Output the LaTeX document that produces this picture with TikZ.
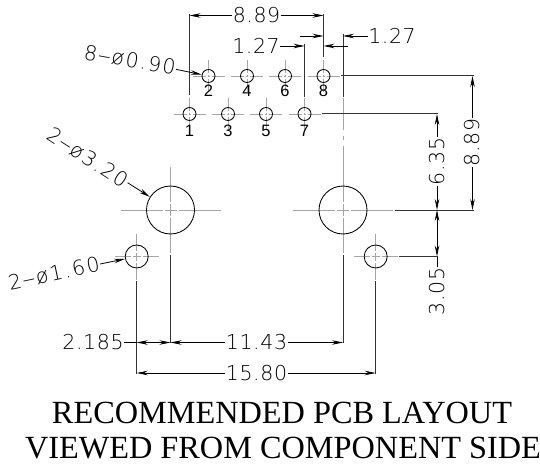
\documentclass[tikz,border=0pt]{standalone}
\usepackage{graphicx}
\usepackage{fontspec}
\setmainfont{Liberation Serif}
\newfontfamily\cadfont[LetterSpace=3]{DejaVu Sans ExtraLight}
\newfontfamily\leaderfont[LetterSpace=8]{DejaVu Sans ExtraLight}
\newfontfamily\pinfont{Liberation Sans}
\usetikzlibrary{arrows.meta}
\newcommand{\longhy}{\scalebox{2}[1]{-}}
\tikzset{
  x=1pt,y=-1pt,
  obj/.style={draw=black,line width=0.85pt},
  ext/.style={draw=black!80,line width=1pt},
  ctr/.style={draw=black!35,line width=0.9pt},
  dimline/.style={draw=black,line width=0.8pt,-{Stealth[length=11pt,width=4.5pt]}},
  dimtwo/.style={draw=black,line width=0.8pt,{Stealth[length=11pt,width=4.5pt]}-{Stealth[length=11pt,width=4.5pt]}},
  plainline/.style={draw=black,line width=0.8pt},
  dimtext/.style={font=\cadfont\fontsize{20.5}{20.5}\selectfont,inner sep=0.5pt,text=black},
  leadertext/.style={font=\leaderfont\fontsize{20.5}{20.5}\selectfont,inner sep=0.5pt,text=black},
  pintext/.style={font=\pinfont\fontsize{16.5}{16.5}\selectfont,inner sep=0pt},
  title/.style={font=\fontsize{32.3}{32.3}\selectfont,inner sep=0pt,anchor=base},
}
\newcommand{\crossmark}[5]{% x,y,hx,vy,offset
  \draw[ctr] (#1-#3,#2) -- (#1-#5,#2) (#1-#5+2,#2) -- (#1+#5-2,#2) (#1+#5,#2) -- (#1+#3,#2);
  \draw[ctr] (#1,#2-#4) -- (#1,#2-#5) (#1,#2-#5+2) -- (#1,#2+#5-2) (#1,#2+#5) -- (#1,#2+#4);
}
\begin{document}
\begin{tikzpicture}
\useasboundingbox (0,0) rectangle (540,465);
% pin centre lines
\foreach \x in {208.5,247,285,323.5} {\crossmark{\x}{76}{16}{16}{3}}
\foreach \x in {189.5,228,266,304.5} {\crossmark{\x}{114}{16}{16}{3}}
\crossmark{170.5}{210}{50}{43}{8}
\crossmark{343}{210}{50}{43}{8}
\crossmark{136.7}{256.5}{22}{23}{6}
\crossmark{375.7}{256.5}{22}{23}{6}
\draw[ctr] (343,98) -- (343,130) (343,136) -- (343,140) (343,146) -- (343,167);
% holes
\foreach \n/\x/\t in {p2/208.5/2,p4/247/4,p6/285/6,p8/323.5/8}{
  \node[obj,circle,minimum size=13pt,inner sep=0pt] (\n) at (\x,76) {};
  \node[pintext] at (\x,90.5) {\t};
}
\foreach \n/\x/\t in {p1/189.5/1,p3/228/3,p5/266/5,p7/304.5/7}{
  \node[obj,circle,minimum size=13pt,inner sep=0pt] (\n) at (\x,114) {};
  \node[pintext] at (\x,131) {\t};
}
\node[obj,circle,minimum size=48pt,inner sep=0pt] (bigL) at (170.5,210) {};
\node[obj,circle,minimum size=48pt,inner sep=0pt] (bigR) at (343,210) {};
\node[obj,circle,minimum size=23pt,inner sep=0pt] (smL) at (136.7,256.5) {};
\node[obj,circle,minimum size=23pt,inner sep=0pt] (smR) at (375.7,256.5) {};
% extension lines
\coordinate (e1a) at (189.5,14); \coordinate (e1b) at (189.5,95);
\coordinate (e8a) at (323.5,14); \coordinate (e8b) at (323.5,57);
\coordinate (e7a) at (304.5,44); \coordinate (e7b) at (304.5,97);
\coordinate (eRa) at (343,34);   \coordinate (eRb) at (343,97);
\draw[ext] (e1a) -- (e1b);
\draw[ext] (e8a) -- (e8b);
\draw[ext] (e7a) -- (e7b);
\draw[ext] (eRa) -- (eRb);
\coordinate (r76a) at (341,76);  \coordinate (r76b) at (474,76);
\coordinate (r114a) at (322,114);\coordinate (r114b) at (438,114);
\coordinate (r210a) at (395,210);\coordinate (r210b) at (474,210);
\coordinate (r256a) at (399,256.5);\coordinate (r256b) at (438,256.5);
\draw[ext] (r76a) -- (r76b);
\draw[ext] (r114a) -- (r114b);
\draw[ext] (r210a) -- (r210b);
\draw[ext] (r256a) -- (r256b);
\coordinate (bLa) at (136.7,281); \coordinate (bLb) at (136.7,373.5);
\coordinate (bMa) at (170.5,255); \coordinate (bMb) at (170.5,343);
\coordinate (bNa) at (343,255);   \coordinate (bNb) at (343,343);
\coordinate (bRa) at (375.7,281); \coordinate (bRb) at (375.7,373.5);
\draw[ext] (bLa) -- (bLb);
\draw[ext] (bMa) -- (bMb);
\draw[ext] (bNa) -- (bNb);
\draw[ext] (bRa) -- (bRb);
% top 8.89
\node[dimtext] (t889) at (256.5,15.5) {8.89};
\coordinate (a1) at (189.5,15.5); \coordinate (a2) at (323.5,15.5);
\draw[dimline] (t889) -- (a1);
\draw[dimline] (t889) -- (a2);
% 1.27 left
\node[dimtext] (t127a) at (256,46) {1.27};
\coordinate (b1) at (304.5,46); \coordinate (b2) at (323.5,46); \coordinate (b3) at (348,46);
\draw[dimline] (t127a) -- (b1);
\draw[dimline] (b3) -- (b2);
% 1.27 right
\node[dimtext] (t127b) at (392,36) {1.27};
\coordinate (c1) at (300,36); \coordinate (c2) at (323.5,36); \coordinate (c3) at (343,36);
\draw[dimline] (c1) -- (c2);
\draw[dimline] (t127b) -- (c3);
% right dimensions
\node[dimtext,rotate=90] (t889r) at (472.5,142.5) {8.89};
\coordinate (d1) at (472.5,76); \coordinate (d2) at (472.5,210);
\draw[dimline] (t889r) -- (d1);
\draw[dimline] (t889r) -- (d2);
\node[dimtext,rotate=90] (t635) at (437,161.5) {6.35};
\coordinate (f1) at (437,114); \coordinate (f2) at (437,210);
\draw[dimline] (t635) -- (f1);
\draw[dimline] (t635) -- (f2);
\node[dimtext,rotate=90] (t305) at (437,291.5) {3.05};
\coordinate (g1) at (437,210); \coordinate (g2) at (437,256.5);
\draw[dimtwo] (g1) -- (g2);
\draw[plainline] (t305) -- (g2);
% bottom dimensions
\node[dimtext] (t2185) at (93,342.5) {2.185};
\coordinate (h1) at (136.7,342.5); \coordinate (h2) at (170.5,342.5); \coordinate (h3) at (343,342.5);
\draw[plainline] (t2185) -- (h1);
\draw[dimtwo] (h1) -- (h2);
\node[dimtext] (t1143) at (256.5,342.5) {11.43};
\draw[dimline] (t1143) -- (h2);
\draw[dimline] (t1143) -- (h3);
\node[dimtext] (t1580) at (256.5,373) {15.80};
\coordinate (i1) at (136.7,373); \coordinate (i2) at (375.7,373);
\draw[dimline] (t1580) -- (i1);
\draw[dimline] (t1580) -- (i2);
% leaders
\node[leadertext,rotate=-10] (l1) at (130,60) {8\longhy ø0.90};
\draw[dimline] (l1) -- (p2);
\node[leadertext,rotate=-33] (l2) at (88,157.5) {2\longhy ø3.20};
\draw[dimline] (l2) -- (bigL);
\node[leadertext,rotate=12] (l3) at (54,273.5) {2\longhy ø1.60};
\draw[dimline] (l3) -- (smL);
% title
\node[title] (tt1) at (282,423) {RECOMMENDED PCB LAYOUT};
\node[title] (tt2) at (283,458) {VIEWED FROM COMPONENT SIDE};
\end{tikzpicture}
\end{document}
